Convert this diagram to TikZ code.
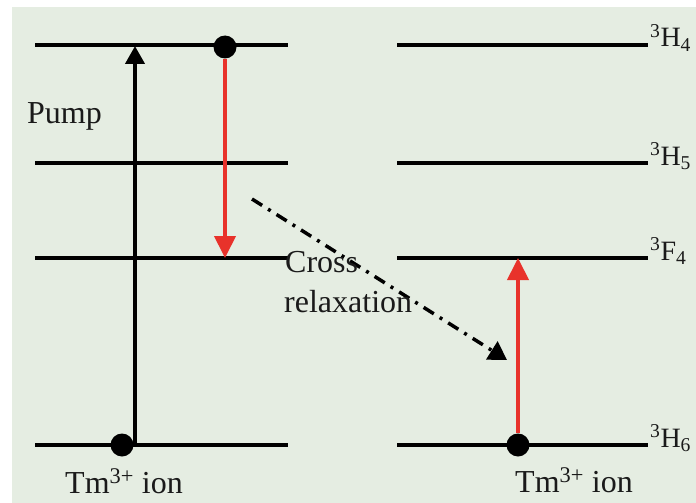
\documentclass[tikz,border=0pt]{standalone}
\usepackage{fontspec}
\setmainfont{LiberationSerif}[Extension=.ttf,UprightFont=*-Regular]
\usetikzlibrary{arrows.meta}
\definecolor{bgcol}{HTML}{E5EDE2}
\definecolor{redarr}{HTML}{E8322B}
\definecolor{inkcol}{HTML}{1A1A1A}
\begin{document}
\begin{tikzpicture}[x=1pt,y=-1pt,line cap=butt,line join=miter,
    font=\rmfamily\fontsize{32}{38}\selectfont,text=inkcol]
  \tikzset{level/.style={line width=3.5pt,draw=black},
    trans/.style={line width=4pt,-{Triangle[length=18pt,width=19pt]}},
    redtrans/.style={trans,draw=redarr,-{Triangle[length=22pt,width=21pt]}},
    crossrel/.style={line width=3.5pt,dash pattern=on 12pt off 7pt on 3pt off 7pt,
      -{Triangle[length=18pt,width=21pt]}},
    dot/.style={circle,fill=black,inner sep=0pt,minimum size=23pt},
    term/.style={anchor=base west,inner sep=0pt,font=\rmfamily\fontsize{28}{34}\selectfont}}
  \useasboundingbox (0,0) rectangle (696,503);
  \fill[bgcol] (12,7) rectangle (696,503);
  % energy levels
  \foreach\n/\y in {a/45,b/163,c/258,d/445}{
    \coordinate (L\n1) at (35,\y); \coordinate (L\n2) at (288,\y);
    \coordinate (R\n1) at (397,\y); \coordinate (R\n2) at (648,\y);
    \draw[level] (L\n1)--(L\n2);
    \draw[level] (R\n1)--(R\n2);}
  \node[term] (h4) at (650,47) {\textsuperscript{3}H\textsubscript{4}};
  \node[term] (h5) at (650,165) {\textsuperscript{3}H\textsubscript{5}};
  \node[term] (f4) at (650,260) {\textsuperscript{3}F\textsubscript{4}};
  \node[term] (h6) at (650,447) {\textsuperscript{3}H\textsubscript{6}};
  % ions
  \node[dot] (dlow) at (122,445) {};
  \node[dot] (dtop) at (225,47) {};
  \node[dot] (dright) at (518,445) {};
  \coordinate (pbot) at (135,445);
  \coordinate (ptop) at (135,46);
  \draw[trans] (pbot)--(ptop);
  \draw[redtrans] (dtop.south)--(dtop |- Lc1);
  \draw[redtrans] (dright.north)--(dright |- Rc1);
  \coordinate (cstart) at (252,199);
  \coordinate (cend) at (507,360);
  \draw[crossrel] (cstart)--(cend);
  % texts
  \node[anchor=base west,inner sep=0pt] (pump) at (27,123) {Pump};
  \node[anchor=base west,inner sep=0pt] (cross) at (285,272) {Cross};
  \node[anchor=base west,inner sep=0pt] (relax) at (284,312) {relaxation};
  \node[anchor=base west,inner sep=0pt] (ionl) at (65,493) {Tm\textsuperscript{3+} ion};
  \node[anchor=base west,inner sep=0pt] (ionr) at (515,492) {Tm\textsuperscript{3+} ion};
\end{tikzpicture}
\end{document}
